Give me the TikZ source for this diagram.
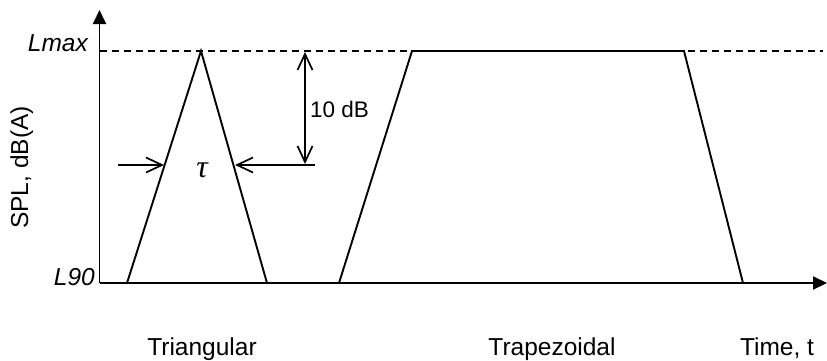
\documentclass[tikz,border=0pt]{standalone}
\usepackage{fontspec}
\setmainfont{Liberation Sans}
\newfontfamily\greekfont{Liberation Serif}
\usetikzlibrary{arrows.meta}
\begin{document}
\begin{tikzpicture}[x=1pt,y=1pt,yscale=-1,
  curve/.style={line width=1.9pt,line join=miter},
  axis/.style={line width=1.9pt,-{Triangle[length=14pt,width=13pt]}},
  dim/.style={line width=1.7pt},
  barb/.tip={Straight Barb[length=16pt,width=15pt,line width=1.7pt]},
  lbl/.style={font=\fontsize{24.5}{28}\selectfont,inner sep=0pt},
  ilbl/.style={font=\fontsize{24.5}{28}\selectfont\itshape,inner sep=0pt}]
\useasboundingbox (0,0) rectangle (827,360);
% axes
\coordinate (O) at (99.5,283);
\coordinate (ytop) at (99.5,10);
\coordinate (xend) at (827,283);
\draw[axis] (O) -- (ytop);
\draw[axis] (O) -- (xend);
% Lmax dashed line
\coordinate (d1) at (100,51);
\coordinate (d2) at (823,51);
\draw[line width=1.5pt,dash pattern=on 7pt off 5pt] (d1) -- (d2);
% triangular
\coordinate (t1) at (127,283);
\coordinate (t2) at (201,51);
\coordinate (t3) at (267,283);
\draw[curve] (t1) -- (t2) -- (t3);
% trapezoidal
\coordinate (p1) at (339,283);
\coordinate (p2) at (412,51);
\coordinate (p3) at (684,51);
\coordinate (p4) at (743,283);
\draw[curve] (p1) -- (p2) -- (p3) -- (p4);
% 10 dB dimension
\coordinate (v1) at (305,52);
\coordinate (v2) at (305,164);
\draw[dim,barb-barb] (v1) -- (v2);
% tau width arrows
\coordinate (hl0) at (118,165);
\coordinate (hl1) at (164,165);
\coordinate (hr0) at (315,165);
\coordinate (hr1) at (235,165);
\draw[dim,-barb] (hl0) -- (hl1);
\draw[dim,-barb] (hr0) -- (hr1);
% labels
\node[ilbl,anchor=base east] (lmax) at (88,51) {Lmax};
\node[ilbl,anchor=base east] (l90) at (95,285.5) {L90};
\node[lbl,rotate=90,anchor=base] (spl) at (28,167.5) {SPL, dB(A)};
\node[font=\fontsize{22.5}{26}\selectfont,inner sep=0pt,anchor=base west] (db) at (310,117) {10 dB};
\node[font=\fontsize{32}{36}\selectfont\greekfont\itshape,inner sep=0pt,anchor=base] (tau) at (202,177) {τ};
\node[lbl,anchor=base] (tri) at (202,355) {Triangular};
\node[lbl,anchor=base] (trap) at (552,355) {Trapezoidal};
\node[lbl,anchor=base] (time) at (777,355) {Time, t};
\end{tikzpicture}
\end{document}
